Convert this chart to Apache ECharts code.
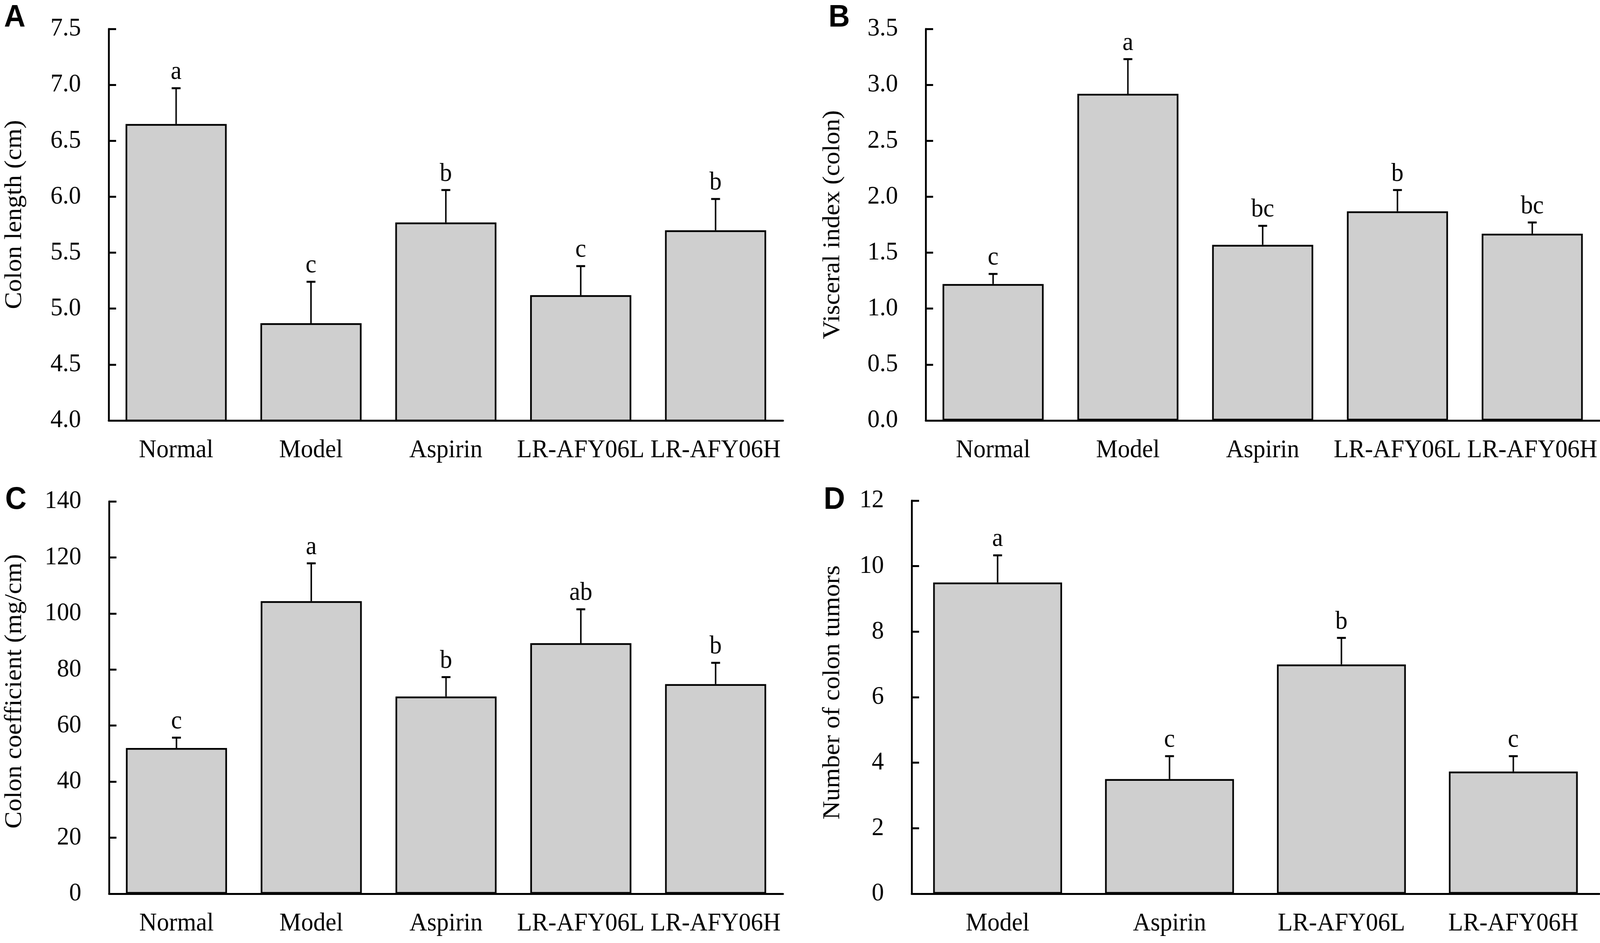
<!DOCTYPE html>
<html>
<head>
<meta charset="utf-8">
<title>Colon indices</title>
<script src="https://cdn.jsdelivr.net/npm/echarts@6/dist/echarts.min.js"></script>
<style>
  html, body { margin: 0; padding: 0; background: #fff; overflow: hidden; }
  #main { width: 4328px; height: 2413px; transform-origin: 0 0; }
</style>
</head>
<body>
<div id="main"></div>
<script>
// groups
var groups = ['Normal', 'Model', 'Aspirin', 'LR-AFY06L', 'LR-AFY06H'];
var groupsD = ['Model', 'Aspirin', 'LR-AFY06L', 'LR-AFY06H'];

// A - colon length (cm)
var colonLength = [6.65, 4.87, 5.77, 5.12, 5.70];
var colonLengthErr = [0.32, 0.37, 0.29, 0.26, 0.28];
var colonLengthSig = ['a', 'c', 'b', 'c', 'b'];

// B - visceral index (colon)
var visceralIndex = [1.22, 2.92, 1.57, 1.87, 1.67];
var visceralIndexErr = [0.09, 0.31, 0.17, 0.19, 0.10];
var visceralIndexSig = ['c', 'a', 'bc', 'b', 'bc'];

// C - colon coefficient (mg/cm)
var colonCoef = [52.0, 104.4, 70.4, 89.4, 74.8];
var colonCoefErr = [3.7, 13.5, 6.9, 12.1, 7.6];
var colonCoefSig = ['c', 'a', 'b', 'ab', 'b'];

// D - number of colon tumors
var tumors = [9.5, 3.5, 7.0, 3.73];
var tumorsErr = [0.83, 0.70, 0.81, 0.47];
var tumorsSig = ['a', 'c', 'b', 'c'];

var SERIF = '"Liberation Serif", "Times New Roman", serif';
var FS = 66;

// the figure is laid out at 4328x2413; squeeze it into whatever the window really is
var W = 4328, H = 2413;
var dom = document.getElementById('main');
var sx = Math.min(1, window.innerWidth / W);
var sy = Math.min(1, window.innerHeight / H);
dom.style.transform = 'scale(' + sx + ',' + sy + ')';

var chart = echarts.init(dom);

function xAxisOf(idx, cats) {
  return {
    type: 'category',
    gridIndex: idx,
    data: cats,
    axisLine: { show: true, onZero: false, lineStyle: { color: '#000', width: 5 } },
    axisTick: { show: false },
    axisLabel: { margin: 44, fontSize: FS, fontFamily: SERIF, color: '#000', interval: 0 },
    splitLine: { show: false }
  };
}

// shift = how far the rotated title sits above the middle of the axis
function yAxisOf(idx, name, min, max, step, gap, digits, shift) {
  return {
    type: 'value',
    gridIndex: idx,
    min: min,
    max: max,
    interval: step,
    name: name,
    nameLocation: 'middle',
    nameGap: gap,
    nameTextStyle: { fontSize: FS, fontFamily: SERIF, color: '#000', padding: [0, 0, 0, shift * 2] },
    axisLine: { show: true, lineStyle: { color: '#000', width: 5 } },
    axisTick: { show: true, inside: true, length: 20, lineStyle: { color: '#000', width: 5 } },
    axisLabel: {
      margin: 75, fontSize: FS, fontFamily: SERIF, color: '#000',
      formatter: function (v) { return v.toFixed(digits); }
    },
    splitLine: { show: false }
  };
}

function barSeries(idx, values) {
  return {
    type: 'bar',
    xAxisIndex: idx,
    yAxisIndex: idx,
    data: values,
    barCategoryGap: '25%',
    itemStyle: { color: '#cfcfcf', borderColor: '#000', borderWidth: 4.5 },
    silent: true
  };
}

// upper error bar + significance letter
function errSeries(idx, values, errs, sig) {
  var data = values.map(function (v, i) { return [i, v, errs[i]]; });
  return {
    type: 'custom',
    xAxisIndex: idx,
    yAxisIndex: idx,
    data: data,
    z: 5,
    clip: false,
    silent: true,
    renderItem: function (params, api) {
      var i = api.value(0);
      var v = api.value(1);
      var e = api.value(2);
      var base = api.coord([i, v]);
      var top = api.coord([i, v + e]);
      return {
        type: 'group',
        children: [
          { type: 'line', shape: { x1: top[0], y1: base[1], x2: top[0], y2: top[1] },
            style: { stroke: '#000', lineWidth: 4 } },
          { type: 'line', shape: { x1: top[0] - 12, y1: top[1], x2: top[0] + 12, y2: top[1] },
            style: { stroke: '#000', lineWidth: 5 } },
          { type: 'text', x: top[0], y: top[1] - 8,
            style: { text: sig[params.dataIndex], fill: '#000', font: FS + 'px ' + SERIF,
                     align: 'center', verticalAlign: 'bottom' } }
        ]
      };
    }
  };
}

function panelLetter(txt, x, y) {
  return { type: 'text', left: x, top: y,
           style: { text: txt, fill: '#000', font: 'bold 80px "Liberation Sans", Arial, sans-serif' } };
}

var option = {
  backgroundColor: '#fff',
  animation: false,
  grid: [
    { left: 294, top: 74, width: 1824, height: 1002 },
    { left: 2504, top: 74, width: 1823, height: 1002 },
    { left: 295, top: 1283, width: 1823, height: 1004 },
    { left: 2466, top: 1281, width: 1860, height: 1006 }
  ],
  xAxis: [
    xAxisOf(0, groups),
    xAxisOf(1, groups),
    xAxisOf(2, groups),
    xAxisOf(3, groupsD)
  ],
  yAxis: [
    yAxisOf(0, 'Colon length (cm)', 4, 7.5, 0.5, 221, 1, 26),
    yAxisOf(1, 'Visceral index (colon)', 0, 3.5, 0.5, 218, 1, 0),
    yAxisOf(2, 'Colon coefficient (mg/cm)', 0, 140, 20, 222, 0, 16),
    yAxisOf(3, 'Number of colon tumors', 0, 12, 2, 180, 0, 12)
  ],
  graphic: [
    panelLetter('A', 11, 6),
    panelLetter('B', 2241, 6),
    panelLetter('C', 14, 1240),
    panelLetter('D', 2228, 1240)
  ],
  series: [
    barSeries(0, colonLength),
    errSeries(0, colonLength, colonLengthErr, colonLengthSig),
    barSeries(1, visceralIndex),
    errSeries(1, visceralIndex, visceralIndexErr, visceralIndexSig),
    barSeries(2, colonCoef),
    errSeries(2, colonCoef, colonCoefErr, colonCoefSig),
    barSeries(3, tumors),
    errSeries(3, tumors, tumorsErr, tumorsSig)
  ]
};

chart.setOption(option);
</script>
</body>
</html>
